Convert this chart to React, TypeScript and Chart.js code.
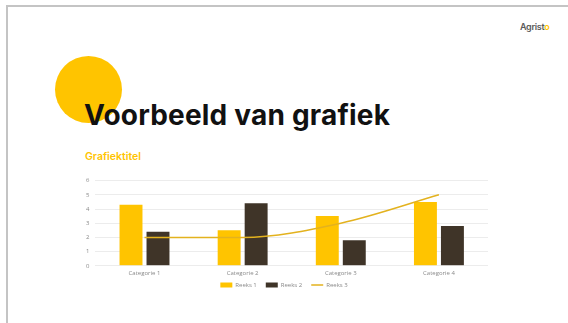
import React, { useEffect, useRef } from "react";
import { Chart, registerables } from "chart.js";

Chart.register(...registerables);

const categories = ["Categorie 1", "Categorie 2", "Categorie 3", "Categorie 4"];
const reeks1 = [4.3, 2.5, 3.5, 4.5];
const reeks2 = [2.4, 4.4, 1.8, 2.8];
const reeks3 = [2, 2, 3, 5];
const seriesNames = ["Reeks 1", "Reeks 2", "Reeks 3"];
const yTicks = [0, 1, 2, 3, 4, 5, 6];

const YELLOW = "#FFC400";
const BROWN = "#3F3428";
const LINE = "#E3B21E";

const legendShift = {
  id: "legendShift",
  afterLayout(chart: any) {
    if (chart.legend) {
      chart.legend.top -= 8;
      chart.legend.bottom -= 8;
    }
  },
};

export default function App() {
  const ref = useRef<HTMLCanvasElement | null>(null);

  useEffect(() => {
    document.body.style.margin = "0";
    const ctx = ref.current!.getContext("2d")!;
    const chart = new Chart(ctx, {
      data: {
        labels: categories,
        datasets: [
          {
            type: "line",
            label: seriesNames[2],
            data: reeks3,
            borderColor: LINE,
            backgroundColor: LINE,
            borderWidth: 1.5,
            pointRadius: 0,
            cubicInterpolationMode: "monotone",
            order: 0,
          } as any,
          {
            type: "bar",
            label: seriesNames[0],
            data: reeks1,
            backgroundColor: YELLOW,
            categoryPercentage: 0.55,
            barPercentage: 0.85,
            order: 1,
          },
          {
            type: "bar",
            label: seriesNames[1],
            data: reeks2,
            backgroundColor: BROWN,
            categoryPercentage: 0.55,
            barPercentage: 0.85,
            order: 1,
          },
        ],
      },
      plugins: [legendShift],
      options: {
        animation: false,
        responsive: false,
        maintainAspectRatio: false,
        layout: { padding: { left: 0, right: 0, top: 4, bottom: 0 } },
        scales: {
          x: {
            grid: { display: false, drawTicks: false },
            border: { display: false },
            ticks: { color: "#8a8a8a", font: { size: 6, family: "Open Sans" }, padding: 4 },
          },
          y: {
            min: 0,
            max: 6,
            afterBuildTicks: (axis: any) => {
              axis.ticks = yTicks.map((v) => ({ value: v }));
            },
            grid: { color: "#ececec", lineWidth: 1, drawTicks: false },
            border: { display: false },
            ticks: { color: "#8a8a8a", font: { size: 6, family: "Open Sans" }, padding: 6 },
          },
        },
        plugins: {
          legend: {
            position: "bottom",
            labels: {
              color: "#8a8a8a",
              font: { size: 6, family: "Open Sans" },
              usePointStyle: true,
              pointStyleWidth: 12,
              boxWidth: 12,
              boxHeight: 5,
              padding: 9,
              sort: (a: any, b: any) => a.datasetIndex === 0 ? 1 : b.datasetIndex === 0 ? -1 : a.datasetIndex - b.datasetIndex,
              generateLabels: (c: any) => {
                const items = Chart.defaults.plugins.legend.labels.generateLabels(c);
                return items.map((it: any) => {
                  if (it.datasetIndex === 0) {
                    return { ...it, pointStyle: "line", lineWidth: 1.5, strokeStyle: LINE, fillStyle: LINE };
                  }
                  return { ...it, pointStyle: "rect", lineWidth: 0 };
                });
              },
            },
          },
          tooltip: { enabled: false },
        },
      },
    });
    return () => chart.destroy();
  }, []);

  return (
    <div style={{ position: "relative", width: 568, height: 323, background: "#fff", overflow: "hidden", fontFamily: "Inter, sans-serif" }}>
      <div style={{ position: "absolute", left: 6, top: 5, right: 0, height: 2, background: "#c4c4c4" }} />
      <div style={{ position: "absolute", left: 6, top: 5, bottom: 0, width: 2, background: "#c4c4c4" }} />
      <div style={{ position: "absolute", left: 520, top: 21, fontSize: 9, fontWeight: 600, color: "#5a5a5a", letterSpacing: -0.3 }}>
        Agrist<span style={{ color: YELLOW }}>o</span>
      </div>
      <div style={{ position: "absolute", left: 55, top: 56, width: 67, height: 67, borderRadius: "50%", background: YELLOW }} />
      <div style={{ position: "absolute", left: 84, top: 95, fontSize: 28, fontWeight: 700, color: "#111", letterSpacing: 0.2, whiteSpace: "nowrap", lineHeight: "40px" }}>
        Voorbeeld van grafiek
      </div>
      <div style={{ position: "absolute", left: 85, top: 150, fontSize: 10.5, fontWeight: 600, color: YELLOW, whiteSpace: "nowrap" }}>
        Grafiektitel
      </div>
      <canvas ref={ref} width={408} height={135} style={{ position: "absolute", left: 80, top: 171, width: 408, height: 135 }} />
    </div>
  );
}
